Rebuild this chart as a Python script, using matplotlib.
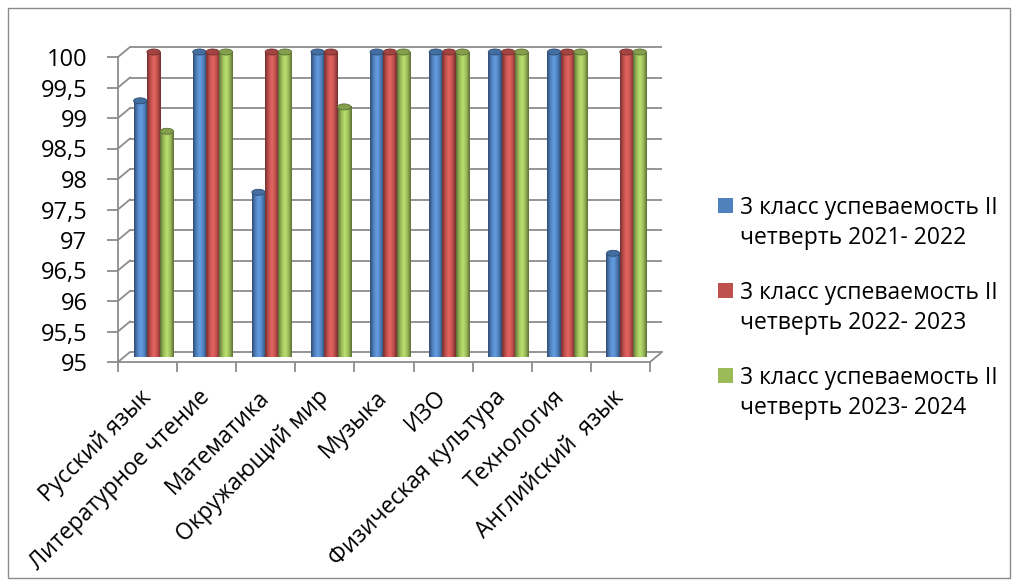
import matplotlib.pyplot as plt
import numpy as np
from matplotlib.patches import Rectangle, Ellipse
from matplotlib.colors import LinearSegmentedColormap, to_rgb
from matplotlib.transforms import ScaledTranslation

subjects = ["Русский язык", "Литературное чтение", "Математика", "Окружающий мир",
            "Музыка", "ИЗО", "Физическая культура", "Технология", "Английский  язык"]
y2021 = [99.2, 100, 97.7, 100, 100, 100, 100, 100, 96.7]
y2022 = [100, 100, 100, 100, 100, 100, 100, 100, 100]
y2023 = [98.7, 100, 100, 99.1, 100, 100, 100, 100, 100]
series_names = ["3 класс успеваемость II\nчетверть 2021- 2022",
                "3 класс успеваемость II\nчетверть 2022- 2023",
                "3 класс успеваемость II\nчетверть 2023- 2024"]
colors = ["#4F81BD", "#C0504D", "#9BBB59"]
yticks = [95, 95.5, 96, 96.5, 97, 97.5, 98, 98.5, 99, 99.5, 100]
ytick_labels = ["95", "95,5", "96", "96,5", "97", "97,5", "98", "98,5", "99", "99,5", "100"]

plt.rcParams['font.family'] = ['Open Sans', 'DejaVu Sans']
grey = "#8C8C8C"

fig = plt.figure(figsize=(10.2, 5.88), dpi=100)
# front plane of the 3d box
ax = fig.add_axes([118/1020, 1 - 362/588, 532/1020, 305/588])
ax.set_xlim(-0.5, len(subjects) - 0.5)
ax.set_ylim(95, 100)
ax.set_facecolor("none")

# depth offsets (pixels -> inches)
mid = ax.transData + ScaledTranslation(6/100, 5/100, fig.dpi_scale_trans)
back = ax.transData + ScaledTranslation(12/100, 10/100, fig.dpi_scale_trans)
wpx, hpx = 532, 305
dx_back = 12 * (len(subjects)) / wpx
dy_back = 10 * 5 / hpx

# back wall gridlines and left wall diagonals
ax.hlines(yticks, -0.5, len(subjects) - 0.5, colors=grey, linewidth=1.3,
          transform=back, clip_on=False, zorder=1)
for yt in yticks:
    ax.plot([-0.5, -0.5 + dx_back], [yt, yt + dy_back], color=grey, lw=1.3,
            clip_on=False, zorder=1)
ax.plot([len(subjects) - 0.5, len(subjects) - 0.5 + dx_back], [95, 95 + dy_back],
        color=grey, lw=1.3, clip_on=False, zorder=1)

# cylinders
x = np.arange(len(subjects))
w = 0.225
ell_h = 6 * 5 / hpx
for i, vals in enumerate([y2021, y2022, y2023]):
    base = np.array(to_rgb(colors[i]))
    dark = base * 0.6
    light = np.minimum(base * 1.15 + 0.04, 1)
    cm = LinearSegmentedColormap.from_list("c%d" % i, [dark, base, light, base, dark])
    bars = ax.bar(x + (i - 1) * w, np.array(vals) - 95, w, bottom=95, color=colors[i],
                  linewidth=0, zorder=3, transform=mid, clip_on=False)
    grad = np.linspace(0, 1, 64).reshape(1, -1)
    for r in bars:
        x0, y0 = r.get_x(), r.get_y()
        x1, y1 = x0 + r.get_width(), y0 + r.get_height()
        ax.imshow(grad, extent=(x0, x1, y0, y1), aspect='auto', cmap=cm,
                  transform=mid, zorder=3, clip_on=False, interpolation='bilinear')
        ax.add_patch(Ellipse(((x0 + x1) / 2, y1), x1 - x0, ell_h, facecolor=base * 0.85,
                             edgecolor=dark, lw=0.6, transform=mid, zorder=4,
                             clip_on=False))
ax.set_xlim(-0.5, len(subjects) - 0.5)
ax.set_ylim(95, 100)

ax.set_yticks(yticks)
ax.set_yticklabels(ytick_labels, fontsize=17)
ax.set_xticks(np.arange(len(subjects) + 1) - 0.5)
ax.set_xticklabels([])
ax.set_xticks(x, minor=True)
ax.set_xticklabels(subjects, minor=True, rotation=45, ha='right', va='center',
                   rotation_mode='anchor', fontsize=16.5)
ax.tick_params(axis='x', which='minor', length=0, pad=23)
ax.tick_params(axis='x', which='major', length=7, color=grey, width=1.3)
ax.tick_params(axis='y', length=8, color=grey, width=1.3, pad=14)
for s in ['top', 'right']:
    ax.spines[s].set_visible(False)
for s in ['left', 'bottom']:
    ax.spines[s].set_color(grey)
    ax.spines[s].set_linewidth(1.3)

# legend
for i, name in enumerate(series_names):
    ytop = 1 - (198 + 85 * i) / 588
    fig.patches.append(Rectangle((718/1020, ytop - 15/588), 15/1020, 15/588,
                                 transform=fig.transFigure, facecolor=colors[i],
                                 edgecolor='none'))
    fig.text(740/1020, 1 - (223 + 85 * i) / 588, name, fontsize=16.5, va='center',
             ha='left', linespacing=1.3)

fig.patches.append(Rectangle((8/1020, 10/588), 1002/1020, 570/588, transform=fig.transFigure,
                             fill=False, edgecolor=grey, linewidth=1))

fig.savefig("out.png", dpi=100)
